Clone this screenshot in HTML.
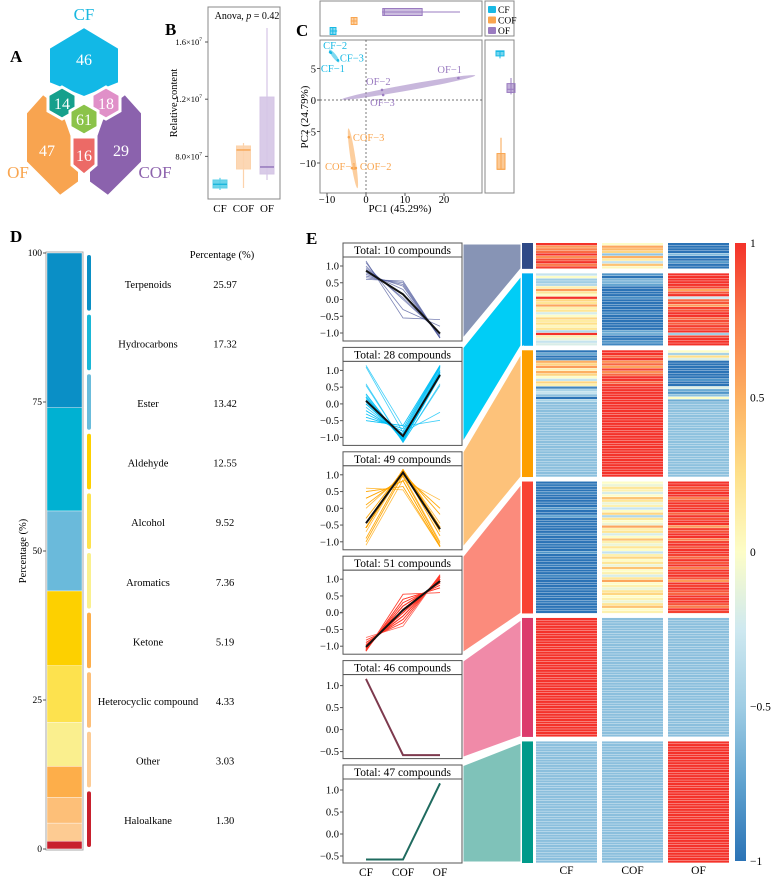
<!DOCTYPE html>
<html><head><meta charset="utf-8">
<style>
html,body{margin:0;padding:0;background:#fff;}
svg{display:block;font-family:"Liberation Serif",serif;}
</style></head>
<body>
<svg id="fig" width="775" height="882" viewBox="0 0 775 882" xmlns="http://www.w3.org/2000/svg">
<defs>
<linearGradient id="cbar" x1="0" y1="1" x2="0" y2="0">
<stop offset="0" stop-color="#2b73b6"/><stop offset="0.125" stop-color="#5fa2cf"/><stop offset="0.25" stop-color="#9fcde4"/><stop offset="0.375" stop-color="#cfe9f0"/><stop offset="0.5" stop-color="#fdfdc7"/><stop offset="0.625" stop-color="#fee08a"/><stop offset="0.75" stop-color="#fdb062"/><stop offset="0.875" stop-color="#fa7c4b"/><stop offset="1" stop-color="#f4322a"/>
</linearGradient>
</defs>
<!-- Panel A -->
<g>
<text x="10" y="62" font-size="17" font-weight="bold">A</text>
<polygon points="49,48 84,27 119,48 119,83 84,97 49,83" fill="#12b8e6" stroke="#fff" stroke-width="2"/>
<polygon points="26,113 43,94 56,104 66,120 72,137 79,148 79,182 60,196 26,162" fill="#f8a450" stroke="#fff" stroke-width="2"/>
<polygon points="142,113 125,94 112,104 102,120 96,137 89,148 89,182 108,196 142,162" fill="#8b62ad" stroke="#fff" stroke-width="2"/>
<polygon points="62,87 76,95 76,111 62,119 48,111 48,95" fill="#16a08c" stroke="#fff" stroke-width="3"/>
<polygon points="106,87 120,95 120,111 106,119 92,111 92,95" fill="#e090c8" stroke="#fff" stroke-width="3"/>
<polygon points="84,103 98,111 98,127 84,135 70,127 70,111" fill="#8bc34a" stroke="#fff" stroke-width="3"/>
<polygon points="72,137 96,137 96,165 84,175 72,165" fill="#ec6a66" stroke="#fff" stroke-width="3"/>
<text x="84" y="20" font-size="17" fill="#1ab8e0" text-anchor="middle">CF</text>
<text x="18" y="178" font-size="17" fill="#f9a54f" text-anchor="middle">OF</text>
<text x="155" y="178" font-size="17" fill="#8d63ad" text-anchor="middle">COF</text>
<g fill="#fff" font-size="16" text-anchor="middle">
<text x="84" y="65">46</text>
<text x="47" y="156">47</text>
<text x="121" y="156">29</text>
<text x="62" y="109">14</text>
<text x="106" y="109">18</text>
<text x="84" y="125">61</text>
<text x="84" y="161">16</text>
</g>
</g>
<!-- Panel B -->
<g id="panelB">
<text x="165" y="35" font-size="17" font-weight="bold">B</text>
<rect x="208" y="7" width="72" height="192" fill="none" stroke="#888" stroke-width="1"/>
<text x="247" y="19" font-size="10" text-anchor="middle">Anova, <tspan font-style="italic">p</tspan> = 0.42</text>
<text transform="translate(177,103) rotate(-90)" font-size="10.5" text-anchor="middle">Relative content</text>
</g>
<!-- Panel C -->
<g id="panelC">
<text x="296" y="36" font-size="17" font-weight="bold">C</text>
<rect x="320" y="1" width="162" height="35" fill="none" stroke="#888"/>
<rect x="320" y="40" width="162" height="153" fill="none" stroke="#888"/>
<rect x="485" y="40" width="29" height="153" fill="none" stroke="#888"/>
<rect x="485" y="1" width="29" height="35" fill="none" stroke="#888"/>
<text x="400" y="212" font-size="11" text-anchor="middle">PC1 (45.29%)</text>
<text transform="translate(308,117) rotate(-90)" font-size="11" text-anchor="middle">PC2 (24.79%)</text>
</g>
<!-- Panel D -->
<g id="panelD">
<text x="10" y="242" font-size="17" font-weight="bold">D</text>
<text x="222" y="258" font-size="10.5" text-anchor="middle">Percentage (%)</text>
<text transform="translate(26,551) rotate(-90)" font-size="10.5" text-anchor="middle">Percentage (%)</text>
</g>
<!-- Panel E -->
<g id="panelE">
<text x="306" y="244" font-size="17" font-weight="bold">E</text>
<rect x="735" y="243" width="11" height="618" fill="url(#cbar)"/>
</g>
</svg>
<script>
// ---------- Panel B data ----------
const bGroups = ['CF','COF','OF'];
const bMin = [0.565, 0.579, 0.635];
const bQ1 = [0.579, 0.712, 0.677];
const bMed = [0.605, 0.845, 0.726];
const bQ3 = [0.635, 0.873, 1.215];
const bMax = [0.65, 0.894, 1.698];
const bTicks = [0.8, 1.2, 1.6];
const bTickLabels = ['8.0×10', '1.2×10', '1.6×10'];
// ---------- Panel C data ----------
const cSamples = ['CF−1','CF−2','CF−3','COF−1','COF−2','COF−3','OF−1','OF−2','OF−3'];
const cPC1 = [-9.0, -9.2, -7.2, -3.6, -2.6, -4.4, 23.7, 4.1, 4.4];
const cPC2 = [7.5, 7.6, 6.3, -10.8, -10.8, -5.9, 3.5, 1.6, 0.8];
const cXTicks = [-10, 0, 10, 20];
const cYTicks = [5, 0, -5, -10];
const cEllStartPC1 = [-9.4, -2.2, -6.2];
const cEllStartPC2 = [8.0, -14.0, 0.1];
const cEllEndPC1 = [-6.9, -4.5, 28.0];
const cEllEndPC2 = [6.0, -4.5, 3.9];
const cTopMin = [-9.2, -3.9, 4.1];
const cTopQ1 = [-9.2, -3.8, 4.3];
const cTopMed = [-8.5, -3.1, 4.7];
const cTopQ3 = [-7.7, -2.3, 14.4];
const cTopMax = [-7.4, -2.2, 24.1];
const cRightMin = [6.6, -11.0, 0.9];
const cRightQ1 = [7.0, -11.0, 1.2];
const cRightMed = [7.7, -11.0, 1.7];
const cRightQ3 = [7.8, -8.5, 2.6];
const cRightMax = [7.8, -6.0, 3.5];
// ---------- Panel D data ----------
const dClasses = ['Terpenoids','Hydrocarbons','Ester','Aldehyde','Alcohol','Aromatics','Ketone','Heterocyclic compound','Other','Haloalkane'];
const dPercent = [25.97, 17.32, 13.42, 12.55, 9.52, 7.36, 5.19, 4.33, 3.03, 1.30];
const dYTicks = [0, 25, 50, 75, 100];
// ---------- Panel E data (z-scores per compound: CF, COF, OF) ----------
const eCounts = [10, 28, 49, 51, 46, 47];
const g1CF = [1.0,0.6,0.7,0.8,1.15,0.65,0.9,1.1,0.75,0.95];
const g1COF = [0.0,0.55,0.45,0.3,-0.55,0.5,0.15,-0.3,0.4,0.05];
const g1OF = [-1.0,-1.15,-1.15,-1.1,-0.6,-1.15,-1.05,-0.8,-1.15,-1.0];
const g2CF = [-0.3,0.0,-0.5,-0.5,-0.4,0.1,0.6,0.2,0.0,1.1,0.3,0.2,0.55,0.1,0.2,-0.2,0.0,0.3,0.15,0.25,0.05,0.2,-0.4,1.15,0.1,-0.1,-0.3,-0.2];
const g2COF = [-0.82,-1.0,-0.65,-0.65,-0.74,-1.05,-1.15,-1.09,-1.0,-0.85,-1.12,-1.09,-1.15,-1.05,-1.09,-0.89,-1.0,-1.12,-1.07,-1.1,-1.02,-1.09,-0.74,-0.67,-1.05,-0.95,-0.82,-0.89];
const g2OF = [1.12,1.0,1.15,1.15,1.14,0.95,0.55,0.89,1.0,-0.25,0.82,0.89,0.6,0.95,0.89,1.09,1.0,0.82,0.92,0.85,0.97,0.89,1.14,-0.49,0.95,1.05,1.12,1.09];
const g3CF = [-1.0,-0.7,-1.1,-0.9,0.5,0.3,0.6,0.1,0.5,0.3,0.0,-0.3,0.3,0.1,-0.9,-0.45,-0.3,-0.58,-1.0,-0.45,-0.58,-0.58,-0.58,-0.58,-0.58,-0.58,-0.58,-0.58,-0.58,-0.58,-0.58,-0.58,-0.58,-0.58,-0.58,-0.58,-0.58,-0.58,-0.58,-0.58,-0.58,-0.58,-0.58,-0.58,-0.58,-0.58,-0.58,-0.58,-0.58];
const g3COF = [1.0,1.15,0.85,1.08,0.65,0.82,0.55,0.95,0.65,0.82,1.0,1.12,0.82,0.95,1.08,1.15,1.12,1.15,1.0,1.15,1.15,1.15,1.15,1.15,1.15,1.15,1.15,1.15,1.15,1.15,1.15,1.15,1.15,1.15,1.15,1.15,1.15,1.15,1.15,1.15,1.15,1.15,1.15,1.15,1.15,1.15,1.15,1.15,1.15];
const g3OF = [0.0,-0.45,0.25,-0.18,-1.15,-1.12,-1.15,-1.05,-1.15,-1.12,-1.0,-0.82,-1.12,-1.05,-0.18,-0.7,-0.82,-0.57,0.0,-0.7,-0.57,-0.57,-0.57,-0.57,-0.57,-0.57,-0.57,-0.57,-0.57,-0.57,-0.57,-0.57,-0.57,-0.57,-0.57,-0.57,-0.57,-0.57,-0.57,-0.57,-0.57,-0.57,-0.57,-0.57,-0.57,-0.57,-0.57,-0.57,-0.57];
const g4CF = [-1.0,-0.95,-1.09,-1.05,-0.89,-1.0,-1.14,-1.09,-0.95,-1.05,-0.82,-1.0,-1.12,-0.74,-1.09,-1.0,-0.95,-1.15,-1.05,-1.09,-0.89,-1.0,-1.14,-1.05,-0.95,-1.09,-1.0,-0.82,-1.05,-1.12,-1.0,-1.09,-0.95,-1.14,-1.0,-1.05,-0.89,-1.09,-1.15,-1.0,-1.05,-0.95,-1.09,-1.12,-1.0,-1.05,-0.95,-1.09,-1.14,-1.0,-1.05];
const g4COF = [0.0,-0.1,0.2,0.1,-0.2,0.0,0.4,0.2,-0.1,0.1,-0.3,0.0,0.3,-0.4,0.2,0.0,-0.1,0.55,0.1,0.2,-0.2,0.0,0.4,0.1,-0.1,0.2,0.0,-0.3,0.1,0.3,0.0,0.2,-0.1,0.4,0.0,0.1,-0.2,0.2,0.55,0.0,0.1,-0.1,0.2,0.3,0.0,0.1,-0.1,0.2,0.4,0.0,0.1];
const g4OF = [1.0,1.05,0.89,0.95,1.09,1.0,0.74,0.89,1.05,0.95,1.12,1.0,0.82,1.14,0.89,1.0,1.05,0.6,0.95,0.89,1.09,1.0,0.74,0.95,1.05,0.89,1.0,1.12,0.95,0.82,1.0,0.89,1.05,0.74,1.0,0.95,1.09,0.89,0.6,1.0,0.95,1.05,0.89,0.82,1.0,0.95,1.05,0.89,0.74,1.0,0.95];
const g5CF = [1.15,1.15,1.15,1.15,1.15,1.15,1.15,1.15,1.15,1.15,1.15,1.15,1.15,1.15,1.15,1.15,1.15,1.15,1.15,1.15,1.15,1.15,1.15,1.15,1.15,1.15,1.15,1.15,1.15,1.15,1.15,1.15,1.15,1.15,1.15,1.15,1.15,1.15,1.15,1.15,1.15,1.15,1.15,1.15,1.15,1.15];
const g5COF = [-0.58,-0.58,-0.58,-0.58,-0.58,-0.58,-0.58,-0.58,-0.58,-0.58,-0.58,-0.58,-0.58,-0.58,-0.58,-0.58,-0.58,-0.58,-0.58,-0.58,-0.58,-0.58,-0.58,-0.58,-0.58,-0.58,-0.58,-0.58,-0.58,-0.58,-0.58,-0.58,-0.58,-0.58,-0.58,-0.58,-0.58,-0.58,-0.58,-0.58,-0.58,-0.58,-0.58,-0.58,-0.58,-0.58];
const g5OF = [-0.58,-0.58,-0.58,-0.58,-0.58,-0.58,-0.58,-0.58,-0.58,-0.58,-0.58,-0.58,-0.58,-0.58,-0.58,-0.58,-0.58,-0.58,-0.58,-0.58,-0.58,-0.58,-0.58,-0.58,-0.58,-0.58,-0.58,-0.58,-0.58,-0.58,-0.58,-0.58,-0.58,-0.58,-0.58,-0.58,-0.58,-0.58,-0.58,-0.58,-0.58,-0.58,-0.58,-0.58,-0.58,-0.58];
const g6CF = [-0.58,-0.58,-0.58,-0.58,-0.58,-0.58,-0.58,-0.58,-0.58,-0.58,-0.58,-0.58,-0.58,-0.58,-0.58,-0.58,-0.58,-0.58,-0.58,-0.58,-0.58,-0.58,-0.58,-0.58,-0.58,-0.58,-0.58,-0.58,-0.58,-0.58,-0.58,-0.58,-0.58,-0.58,-0.58,-0.58,-0.58,-0.58,-0.58,-0.58,-0.58,-0.58,-0.58,-0.58,-0.58,-0.58,-0.58];
const g6COF = [-0.58,-0.58,-0.58,-0.58,-0.58,-0.58,-0.58,-0.58,-0.58,-0.58,-0.58,-0.58,-0.58,-0.58,-0.58,-0.58,-0.58,-0.58,-0.58,-0.58,-0.58,-0.58,-0.58,-0.58,-0.58,-0.58,-0.58,-0.58,-0.58,-0.58,-0.58,-0.58,-0.58,-0.58,-0.58,-0.58,-0.58,-0.58,-0.58,-0.58,-0.58,-0.58,-0.58,-0.58,-0.58,-0.58,-0.58];
const g6OF = [1.15,1.15,1.15,1.15,1.15,1.15,1.15,1.15,1.15,1.15,1.15,1.15,1.15,1.15,1.15,1.15,1.15,1.15,1.15,1.15,1.15,1.15,1.15,1.15,1.15,1.15,1.15,1.15,1.15,1.15,1.15,1.15,1.15,1.15,1.15,1.15,1.15,1.15,1.15,1.15,1.15,1.15,1.15,1.15,1.15,1.15,1.15];
const eColorTicks = [1, 0.5, 0, -0.5, -1];
const eColorTickLabels = ['1', '0.5', '0', '−0.5', '−1'];
const eLineTicks4 = [1.0, 0.5, 0.0, -0.5, -1.0];
const eLineTicks2 = [1.0, 0.5, 0.0, -0.5];

const NS = 'http://www.w3.org/2000/svg';
const svg = document.getElementById('fig');
function mk(tag, attrs, parent) {
  const el = document.createElementNS(NS, tag);
  for (const k in attrs) el.setAttribute(k, attrs[k]);
  (parent || svg).appendChild(el);
  return el;
}
function fmt(v){ return (v<0?'−':'') + Math.abs(v).toFixed(1); }

// ===== Panel B =====
(function(){
  const g = document.getElementById('panelB');
  const yB = v => 42 + (1.6 - v) * 143;
  const xB = i => 220 + i * 23.5;
  const cols = [['#5ccfe8','#18b4dc'],['#fcd3ac','#f7a04a'],['#d5c5e6','#8a6ab5']];
  bTicks.forEach((t,i)=>{
    const y = yB(t);
    const l = mk('line',{x1:205,x2:208,y1:y,y2:y,stroke:'#555'},g);
    
    
    const tx = mk('text',{x:202,y:y+3,'font-size':8.5,'text-anchor':'end'},g);
    
    
    tx.textContent = bTickLabels[i];
    const sp = mk('tspan',{'font-size':5.5,dy:-4},tx); sp.textContent='7';
  });
  bGroups.forEach((n,i)=>{
    const x = xB(i), c = cols[i];
    const w = mk('line',{x1:x,x2:x,y1:yB(bMax[i]),y2:yB(bMin[i]),stroke:c[0],'stroke-width':1.2},g);
    
    
    const b = mk('rect',{x:x-7,y:yB(bQ3[i]),width:14,height:yB(bQ1[i])-yB(bQ3[i]),fill:c[0],stroke:c[0],'fill-opacity':0.9},g);
    
    
    const m = mk('line',{x1:x-7,x2:x+7,y1:yB(bMed[i]),y2:yB(bMed[i]),stroke:c[1],'stroke-width':1.3},g);
    
    
    const t = mk('text',{x:x,y:212,'font-size':11,'text-anchor':'middle'},g);
    
    
    t.textContent = n;
  });
})();

// ===== Panel C =====
(function(){
  const g = document.getElementById('panelC');
  const xC = v => 366 + v * 3.9;
  const yC = v => 100 - v * 6.3;
  const gcol = ['#18b9e4','#f9a54f','#9a7bc0'];
  const gnames = ['CF','COF','OF'];
  const ellW = [4, 5, 6];
  const zl1 = mk('line',{x1:320,x2:482,y1:yC(0),y2:yC(0),stroke:'#444','stroke-dasharray':'2,2','stroke-width':0.7},g);
  
  
  const zl2 = mk('line',{x1:xC(0),x2:xC(0),y1:40,y2:193,stroke:'#444','stroke-dasharray':'2,2','stroke-width':0.7},g);
  
  
  cXTicks.forEach(t=>{
    const tx = mk('text',{x:xC(t),y:203,'font-size':10.5,'text-anchor':'middle'},g);
    
    
    tx.textContent = (t<0?'−':'')+Math.abs(t);
    mk('line',{x1:xC(t),x2:xC(t),y1:193,y2:196,stroke:'#555'},g);
  });
  cYTicks.forEach(t=>{
    const tx = mk('text',{x:316,y:yC(t)+4,'font-size':10.5,'text-anchor':'end'},g);
    
    
    tx.textContent = (t<0?'−':'')+Math.abs(t);
    mk('line',{x1:317,x2:320,y1:yC(t),y2:yC(t),stroke:'#555'},g);
  });
  for (let gi=0; gi<3; gi++){
    const x0=xC(cEllStartPC1[gi]), y0=yC(cEllStartPC2[gi]), x1=xC(cEllEndPC1[gi]), y1=yC(cEllEndPC2[gi]);
    const cx=(x0+x1)/2, cy=(y0+y1)/2, len=Math.hypot(x1-x0,y1-y0);
    const ang=Math.atan2(y1-y0,x1-x0)*180/Math.PI;
    const e = mk('ellipse',{cx:cx,cy:cy,rx:len/2,ry:ellW[gi]/2,fill:gcol[gi],'fill-opacity':0.55,transform:`rotate(${ang} ${cx} ${cy})`},g);
    
    
  }
  const lblOff = [[-10,19],[-7,-3],[2,1],[-27,2],[4,2],[4,4],[-21,-5],[-16,-5],[-13,11]];
  cSamples.forEach((s,i)=>{
    const gi=Math.floor(i/3);
    const p = mk('circle',{cx:xC(cPC1[i]),cy:yC(cPC2[i]),r:1.3,fill:gcol[gi]},g);
    
    
    const t = mk('text',{x:xC(cPC1[i])+lblOff[i][0],y:yC(cPC2[i])+lblOff[i][1],'font-size':10.5,fill:gcol[gi]},g);
    
    
    t.textContent = s;
  });
  const topY=[31,21,12];
  for(let gi=0;gi<3;gi++){
    const y=topY[gi];
    mk('line',{x1:xC(cTopMin[gi]),x2:xC(cTopMax[gi]),y1:y,y2:y,stroke:gcol[gi]},g);
    const r = mk('rect',{x:xC(cTopQ1[gi]),y:y-3.5,width:Math.max(3,xC(cTopQ3[gi])-xC(cTopQ1[gi])),height:7,fill:gcol[gi],'fill-opacity':0.5,stroke:gcol[gi]},g);
    
    
    mk('line',{x1:xC(cTopMed[gi]),x2:xC(cTopMed[gi]),y1:y-3.5,y2:y+3.5,stroke:gcol[gi]},g);
  }
  const rightX=[500,501,511];
  for(let gi=0;gi<3;gi++){
    const x=rightX[gi];
    mk('line',{x1:x,x2:x,y1:yC(cRightMin[gi]),y2:yC(cRightMax[gi]),stroke:gcol[gi]},g);
    const r = mk('rect',{x:x-4,y:yC(cRightQ3[gi]),width:8,height:Math.max(2,yC(cRightQ1[gi])-yC(cRightQ3[gi])),fill:gcol[gi],'fill-opacity':0.6,stroke:gcol[gi]},g);
    
    
    mk('line',{x1:x-4,x2:x+4,y1:yC(cRightMed[gi]),y2:yC(cRightMed[gi]),stroke:gcol[gi]},g);
  }
  gnames.forEach((n,gi)=>{
    const y=10+gi*10.5;
    const r = mk('rect',{x:488,y:y-4,width:8,height:7,fill:gcol[gi],rx:1},g);
    
    
    const t = mk('text',{x:498,y:y+3,'font-size':9.5},g);
    
    
    t.textContent=n;
  });
})();

// ===== Panel D =====
(function(){
  const g = document.getElementById('panelD');
  const yD = v => 849 - v * 5.96;
  const segCol = ['#0a8fc6','#00b1d2','#6abadb','#fdd000','#fde24e','#faef8e','#fdae4a','#fdbf78','#fdcb92','#c8202d'];
  const stripCol = ['#0a8fc4','#1ab7d6','#6bbcdb','#fdd000','#fde24e','#faf08e','#fdae4a','#fdbf78','#fdcc95','#c8202d'];
  const fr = mk('rect',{x:46,y:252,width:37,height:598,fill:'none',stroke:'#aaa'},g);
  
  
  let cum = 100;
  dClasses.forEach((c,i)=>{
    const top = cum, bot = cum - dPercent[i];
    const r = mk('rect',{x:47,y:yD(top),width:35,height:yD(bot)-yD(top),fill:segCol[i],stroke:'#fff','stroke-width':0.4},g);
    
    
    cum = bot;
    const slot = (849-253)/dClasses.length;
    const sy = 253 + i*slot;
    const st = mk('rect',{x:87,y:sy+2,width:4,height:slot-4,rx:2,fill:stripCol[i]},g);
    
    
    const t = mk('text',{x:148,y:sy+slot/2+5,'font-size':10.5,'text-anchor':'middle'},g);
    
    
    t.textContent = c;
    const v = mk('text',{x:225,y:sy+slot/2+5,'font-size':10.5,'text-anchor':'middle'},g);
    
    
    v.textContent = dPercent[i].toFixed(2);
  });
  dYTicks.forEach(t=>{
    mk('line',{x1:43,x2:46,y1:yD(t),y2:yD(t),stroke:'#555'},g);
    const tx = mk('text',{x:42,y:yD(t)+3,'font-size':9.5,'text-anchor':'end'},g);
    
    
    tx.textContent = t;
  });
})();

// ===== Panel E =====
(function(){
  const g = document.getElementById('panelE');
  const groups = [[g1CF,g1COF,g1OF],[g2CF,g2COF,g2OF],[g3CF,g3COF,g3OF],[g4CF,g4COF,g4OF],[g5CF,g5COF,g5OF],[g6CF,g6COF,g6OF]];
  const lineCol = ['#4f5a9c','#00bff5','#ffa500','#ff3a2a','#dd4a76','#14a090'];
  const meanCol = ['#111','#111','#111','#111','#7d3a4e','#1f6b5f'];
  const ribbonCol = ['#8794b5','#00cdf6','#fdc27a','#fb8b7c','#f08aa8','#7fc2b9'];
  const stripCol = ['#2f4a87','#00b0f0','#fd9f00','#f84233','#dc3b6c','#009a8a'];
  const stops = [[-1,[43,115,182]],[-0.75,[95,162,207]],[-0.5,[159,205,228]],[-0.25,[207,233,240]],[0,[253,253,199]],[0.25,[254,224,138]],[0.5,[253,176,98]],[0.75,[250,124,75]],[1,[244,50,42]]];
  function cmap(v){
    v=Math.max(-1,Math.min(1,v));
    for(let i=0;i<stops.length-1;i++){
      if(v<=stops[i+1][0]){
        const t=(v-stops[i][0])/(stops[i+1][0]-stops[i][0]);
        const c=stops[i][1].map((a,k)=>Math.round(a+(stops[i+1][1][k]-a)*t));
        return `rgb(${c.join(',')})`;
      }
    }
    return 'rgb(244,50,42)';
  }
  const total = eCounts.reduce((a,b)=>a+b,0);
  const gap = 4.5, hTop = 243, hH = 620;
  const rowH = (hH - gap*(eCounts.length-1))/total;
  const colX = [536,602,668], colW = 61;
  const px = [366,403,440];
  let gy = hTop;
  groups.forEach((grp,gi)=>{
    const n = eCounts[gi];
    const gTop = gy, gBot = gy + n*rowH;
    const tt = 243 + 104.4*gi;
    const pt = tt + 14;
    const rb = mk('polygon',{points:`462,${tt} 522,${gTop} 522,${gBot} 462,${pt+84}`,fill:ribbonCol[gi],stroke:'#fff','stroke-width':3},g);
    
    
    const st = mk('rect',{x:522,y:gTop,width:11,height:gBot-gTop,fill:stripCol[gi]},g);
    
    
    for(let r=0;r<n;r++){
      for(let c=0;c<3;c++){
        const cell = mk('rect',{x:colX[c],y:gTop+r*rowH,width:colW,height:rowH-0.35,fill:cmap(grp[c][r])},g);
        
        
      }
    }
    gy = gBot + gap;
    const tb = mk('rect',{x:343,y:tt,width:119,height:14,fill:'#fff',stroke:'#555'},g);
    
    
    const tl = mk('text',{x:402.5,y:tt+11,'font-size':11.5,'text-anchor':'middle'},g);
    
    
    tl.textContent = 'Total: '+n+' compounds';
    const pb = mk('rect',{x:343,y:pt,width:119,height:84,fill:'#fff',stroke:'#555'},g);
    
    
    const big = gi>=4;
    const yE = big ? (v => pt + 11 + (1-v)*44) : (v => pt + 9 + (1-v)*33.5);
    const ticks = big ? eLineTicks2 : eLineTicks4;
    ticks.forEach(t=>{
      mk('line',{x1:340,x2:343,y1:yE(t),y2:yE(t),stroke:'#555'},g);
      const tx = mk('text',{x:339,y:yE(t)+3.5,'font-size':10.5,'text-anchor':'end'},g);
      
      
      tx.textContent = fmt(t);
    });
    for(let r=0;r<n;r++){
      const pts = [0,1,2].map(c=>px[c]+','+yE(grp[c][r])).join(' ');
      const pl = mk('polyline',{points:pts,fill:'none',stroke:lineCol[gi],'stroke-width':0.8,'stroke-opacity':0.75},g);
      
      
    }
    const mean = [0,1,2].map(c=>grp[c].reduce((a,b)=>a+b,0)/n);
    const ml = mk('polyline',{points:mean.map((m,c)=>px[c]+','+yE(m)).join(' '),fill:'none',stroke:meanCol[gi],'stroke-width':2},g);
    
    
  });
  ['CF','COF','OF'].forEach((s,c)=>{
    const t1 = mk('text',{x:px[c],y:876,'font-size':11.5,'text-anchor':'middle'},g);
    
    
    t1.textContent = s;
    const t2 = mk('text',{x:colX[c]+colW/2,y:874,'font-size':11.5,'text-anchor':'middle'},g);
    
    
    t2.textContent = s;
  });
  eColorTicks.forEach((t,i)=>{
    const y = 243 + (1-t)/2*618;
    const tx = mk('text',{x:750,y:y+4,'font-size':11.5},g);
    
    
    tx.textContent = eColorTickLabels[i];
  });
})();
</script>
</body></html>
